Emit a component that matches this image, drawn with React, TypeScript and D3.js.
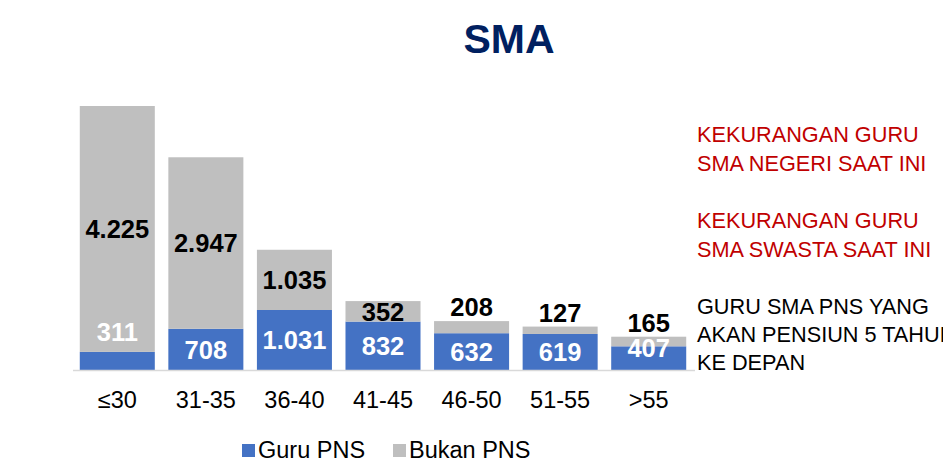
import React from "react";
import * as d3 from "d3";

const categories = ["≤30", "31-35", "36-40", "41-45", "46-50", "51-55", ">55"];
const guruPNS = [311, 708, 1031, 832, 632, 619, 407];
const bukanPNS = [4225, 2947, 1035, 352, 208, 127, 165];
const seriesNames = ["Guru PNS", "Bukan PNS"];
const seriesColors = ["#4472C4", "#BFBFBF"];
const redNotes = [
  ["KEKURANGAN GURU", "SMA NEGERI SAAT INI"],
  ["KEKURANGAN GURU", "SMA SWASTA SAAT INI"],
];
const blackNote = ["GURU SMA PNS YANG", "AKAN PENSIUN 5 TAHUN", "KE DEPAN"];

const W = 943;
const H = 462;
const FONT = "'Liberation Sans', Arial, sans-serif";
const fmt = (v: number) => d3.format(",")(v).replace(/,/g, ".");

export default function App() {
  const x = d3
    .scaleBand<string>()
    .domain(categories)
    .range([73, 693])
    .paddingInner(0.153)
    .paddingOuter(0.0765);
  const totals = categories.map((_, i) => guruPNS[i] + bukanPNS[i]);
  const y = d3.scaleLinear().domain([0, d3.max(totals)!]).range([370, 106]);
  const base = y(0);

  const stack = d3
    .stack<number>()
    .keys(["0", "1"])
    .value((i, k) => (k === "0" ? guruPNS[i] : bukanPNS[i]));
  const layers = stack(categories.map((_, i) => i));

  const valFs = 25.5;
  const labelBaseline = (c: number) => c + valFs * 0.36;

  return (
    <svg
      width={W}
      height={H}
      style={{ position: "absolute", left: 0, top: 0, background: "#fff" }}
      fontFamily={FONT}
    >
      <text x={509} y={53} textAnchor="middle" fontSize={41} fontWeight="bold" fill="#002060">
        SMA
      </text>

      {layers.map((layer, li) => (
        <g key={li}>
          {layer.map((d, i) => (
            <rect
              key={i}
              x={x(categories[i])}
              width={x.bandwidth()}
              y={y(d[1])}
              height={y(d[0]) - y(d[1])}
              fill={seriesColors[li]}
            />
          ))}
        </g>
      ))}

      <line x1={73} x2={695} y1={base + 0.5} y2={base + 0.5} stroke="#D9D9D9" strokeWidth={1.5} />

      {/* blue labels */}
      {layers[0].map((d, i) => {
        const top = y(d[1]);
        const h = base - top;
        let c: number;
        if (h < 20) c = top - 20;
        else if (h < 30) c = base - 22;
        else c = (top + base) / 2;
        return (
          <text
            key={"b" + i}
            x={x(categories[i])! + x.bandwidth() / 2}
            y={labelBaseline(c)}
            textAnchor="middle"
            fontSize={valFs}
            fontWeight="bold"
            fill="#fff"
          >
            {fmt(guruPNS[i])}
          </text>
        );
      })}

      {/* gray labels */}
      {layers[1].map((d, i) => {
        const top = y(d[1]);
        const bot = y(d[0]);
        const h = bot - top;
        const c = h >= 20 ? (top + bot) / 2 : top - 14;
        return (
          <text
            key={"g" + i}
            x={x(categories[i])! + x.bandwidth() / 2}
            y={labelBaseline(c)}
            textAnchor="middle"
            fontSize={valFs}
            fontWeight="bold"
            fill="#000"
          >
            {fmt(bukanPNS[i])}
          </text>
        );
      })}

      {/* category labels */}
      {categories.map((c) => (
        <text
          key={c}
          x={x(c)! + x.bandwidth() / 2}
          y={408}
          textAnchor="middle"
          fontSize={23.5}
          fill="#000"
        >
          {c}
        </text>
      ))}

      {/* notes */}
      {redNotes.map((lines, bi) =>
        lines.map((t, li) => (
          <text key={`r${bi}${li}`} x={697} y={142 + bi * 86 + li * 29} fontSize={21.7} fill="#C00000">
            {t}
          </text>
        ))
      )}
      {blackNote.map((t, li) => (
        <text key={`k${li}`} x={697} y={314 + li * 28} fontSize={21.7} fill="#000">
          {t}
        </text>
      ))}

      {/* legend */}
      {seriesNames.map((n, i) => {
        const lx = i === 0 ? 242 : 393;
        return (
          <g key={n}>
            <rect x={lx} y={444} width={13} height={13} fill={seriesColors[i]} />
            <text x={lx + 16} y={457.5} fontSize={23.5} fill="#000">
              {n}
            </text>
          </g>
        );
      })}
    </svg>
  );
}
